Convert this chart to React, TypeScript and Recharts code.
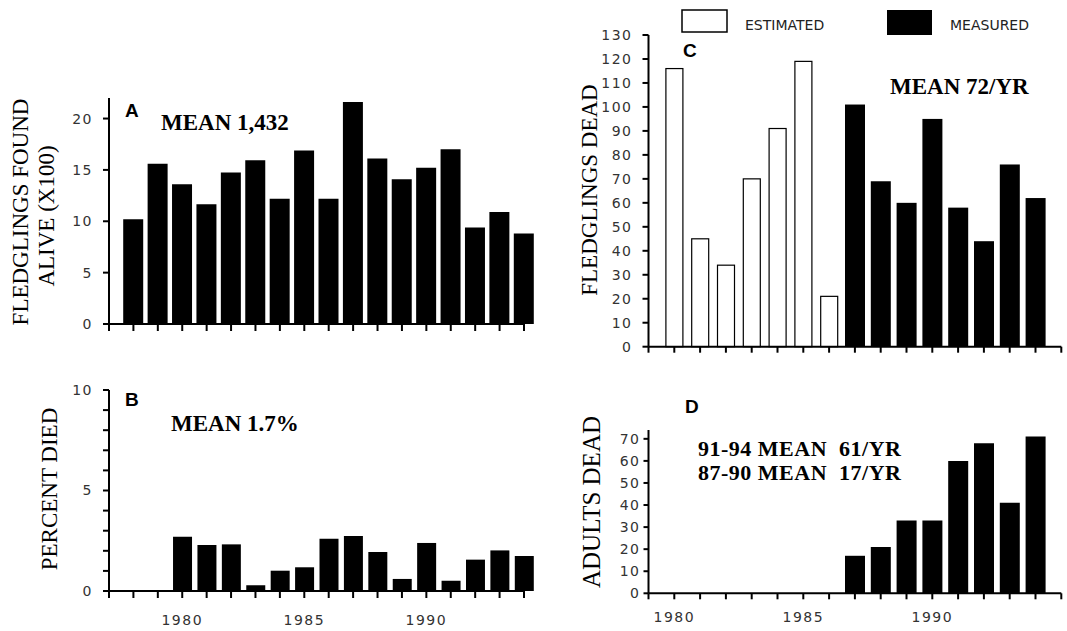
import { BarChart, Bar, XAxis, YAxis } from 'recharts'

// panel A / B years (x axis runs 1977-1994, one tick per year)
const yearsAB = [1978, 1979, 1980, 1981, 1982, 1983, 1984, 1985, 1986, 1987, 1988, 1989, 1990, 1991, 1992, 1993, 1994]
const ticksAB = [1977, 1978, 1979, 1980, 1981, 1982, 1983, 1984, 1985, 1986, 1987, 1988, 1989, 1990, 1991, 1992, 1993, 1994]

// A: fledglings found alive (x100)
const aliveHundreds = [10.2, 15.6, 13.6, 11.65, 14.75, 15.95, 12.2, 16.9, 12.2, 21.6, 16.1, 14.1, 15.2, 17.0, 9.4, 10.9, 8.8]
// B: percent died
const percentDied = [null, null, 2.7, 2.29, 2.32, 0.28, 1.01, 1.18, 2.6, 2.74, 1.94, 0.6, 2.39, 0.51, 1.56, 2.02, 1.74]

// panel C / D years (x axis runs 1979-1995)
const ticksCD = [1979, 1980, 1981, 1982, 1983, 1984, 1985, 1986, 1987, 1988, 1989, 1990, 1991, 1992, 1993, 1994, 1995]
const estimatedYears = [1980, 1981, 1982, 1983, 1984, 1985, 1986]
const estimatedDead = [116, 45, 34, 70, 91, 119, 21]
const measuredYears = [1987, 1988, 1989, 1990, 1991, 1992, 1993, 1994]
const measuredDead = [101, 69, 60, 95, 58, 44, 76, 62]
// D: adults dead
const adultsDead = [17, 21, 33, 33, 60, 68, 41, 71]

const labelYears = [1980, 1985, 1990]
const ticksA = [0, 5, 10, 15, 20]
const ticksB = [0, 1, 2, 3, 4, 5, 6, 7, 8, 9, 10]
const ticksC = [0, 10, 20, 30, 40, 50, 60, 70, 80, 90, 100, 110, 120, 130]
const ticksD = [0, 10, 20, 30, 40, 50, 60, 70]

const dataA = yearsAB.map((year, i) => ({ year, value: aliveHundreds[i] }))
const dataB = yearsAB.map((year, i) => ({ year, value: percentDied[i] }))
const dataC = [
  ...estimatedYears.map((year, i) => ({ year, value: estimatedDead[i], estimated: true })),
  ...measuredYears.map((year, i) => ({ year, value: measuredDead[i], estimated: false })),
]
const dataD = measuredYears.map((year, i) => ({ year, value: adultsDead[i] }))

const axisLine = { stroke: '#000', strokeWidth: 2 }
const tickLine = { stroke: '#000', strokeWidth: 2 }
const tickFont = { fontSize: 14, fill: '#333', fontFamily: 'DejaVu Sans, sans-serif', letterSpacing: 1.5 }
const serif = 'Liberation Serif, Times New Roman, serif'
const sans = 'Liberation Sans, Arial, sans-serif'

const noLabel = () => ''
const yearLabel = (v: number) => (labelYears.includes(v) ? String(v) : '')
const fiveLabel = (v: number) => (v % 5 === 0 ? String(v) : '')

// hollow bars for the estimated years, solid for measured
const DeadBar = (props: any) => {
  const { x, y, width, height, payload } = props
  if (!(height > 0)) return null
  if (payload && payload.estimated) {
    return <rect x={x + 1.5} y={y} width={width - 3} height={height} fill="#fff" stroke="#000" strokeWidth={1.2} />
  }
  return <rect x={x} y={y} width={width} height={height} fill="#000" />
}

export default function App() {
  return (
    <div style={{ position: 'absolute', left: 0, top: 0, width: 1067, height: 631, background: '#fff' }}>
      {/* A */}
      <div style={{ position: 'absolute', left: 0, top: 0 }}>
        <BarChart width={540} height={360} data={dataA} margin={{ top: 98, right: 16, left: 49, bottom: 6 }}>
          <XAxis type="number" dataKey="year" domain={[1977, 1994]} ticks={ticksAB} interval={0}
            tickFormatter={noLabel} axisLine={axisLine} tickLine={tickLine} tickSize={7} height={30} />
          <YAxis type="number" domain={[0, 22]} ticks={ticksA} interval={0} width={60} tick={tickFont}
            axisLine={axisLine} tickLine={tickLine} tickSize={6} tickMargin={10} />
          <Bar dataKey="value" fill="#000" barSize={20} isAnimationActive={false} />
        </BarChart>
      </div>

      {/* B */}
      <div style={{ position: 'absolute', left: 0, top: 370 }}>
        <BarChart width={540} height={261} data={dataB} margin={{ top: 20, right: 16, left: 49, bottom: 0 }}>
          <XAxis type="number" dataKey="year" domain={[1977, 1994]} ticks={ticksAB} interval={0}
            tickFormatter={yearLabel} tick={tickFont} axisLine={axisLine} tickLine={tickLine}
            tickSize={7} tickMargin={17} height={40} />
          <YAxis type="number" domain={[0, 10]} ticks={ticksB} interval={0} width={60} tick={tickFont}
            tickFormatter={fiveLabel} axisLine={axisLine} tickLine={tickLine} tickSize={6} tickMargin={10} />
          <Bar dataKey="value" fill="#000" barSize={19} isAnimationActive={false} />
        </BarChart>
      </div>

      {/* C */}
      <div style={{ position: 'absolute', left: 540, top: 0 }}>
        <BarChart width={527} height={380} data={dataC} margin={{ top: 35, right: 5.7, left: 48.5, bottom: 3.3 }}>
          <XAxis type="number" dataKey="year" domain={[1979, 1995]} ticks={ticksCD} interval={0}
            tickFormatter={noLabel} axisLine={axisLine} tickLine={tickLine} tickSize={6} height={30} />
          <YAxis type="number" domain={[0, 130]} ticks={ticksC} interval={0} width={60} tick={tickFont}
            axisLine={axisLine} tickLine={tickLine} tickSize={6} tickMargin={10} />
          <Bar dataKey="value" barSize={20} shape={DeadBar} isAnimationActive={false} />
        </BarChart>
      </div>

      {/* D */}
      <div style={{ position: 'absolute', left: 540, top: 380 }}>
        <BarChart width={527} height={251} data={dataD} margin={{ top: 50, right: 5.7, left: 48.5, bottom: 0 }}>
          <XAxis type="number" dataKey="year" domain={[1979, 1995]} ticks={ticksCD} interval={0}
            tickFormatter={yearLabel} tick={tickFont} axisLine={axisLine} tickLine={tickLine}
            tickSize={6} tickMargin={13} height={37.7} />
          <YAxis type="number" domain={[0, 74]} ticks={ticksD} interval={0} width={60} tick={tickFont}
            axisLine={axisLine} tickLine={tickLine} tickSize={5} tickMargin={3} />
          <Bar dataKey="value" fill="#000" barSize={20} isAnimationActive={false} />
        </BarChart>
      </div>

      {/* titles, panel letters, means and legend */}
      <svg width={1067} height={631} style={{ position: 'absolute', left: 0, top: 0, pointerEvents: 'none' }}>
        <g fontFamily={serif} fontSize={23} fill="#000">
          <text transform="translate(28,212) rotate(-90)" textAnchor="middle">FLEDGLINGS FOUND</text>
          <text transform="translate(54,216) rotate(-90)" textAnchor="middle">ALIVE (X100)</text>
          <text transform="translate(57,489) rotate(-90)" textAnchor="middle">PERCENT DIED</text>
          <text transform="translate(597,190) rotate(-90)" textAnchor="middle">FLEDGLINGS DEAD</text>
          <text transform="translate(600,502) rotate(-90)" textAnchor="middle" fontSize={25}>ADULTS DEAD</text>
        </g>
        <g fontFamily={sans} fontSize={19} fontWeight="bold" fill="#000">
          <text x={125} y={117}>A</text>
          <text x={125} y={406}>B</text>
          <text x={683} y={57}>C</text>
          <text x={685} y={413}>D</text>
        </g>
        <g fontFamily={serif} fontSize={23} fontWeight="bold" fill="#000">
          <text x={161} y={130}>MEAN 1,432</text>
          <text x={171} y={431}>MEAN 1.7%</text>
          <text x={890} y={94}>MEAN 72/YR</text>
        </g>
        <g fontFamily={serif} fontSize={22} fontWeight="bold" fill="#000" letterSpacing={0.5}>
          <text x={698} y={456} xmlSpace="preserve">91-94 MEAN  61/YR</text>
          <text x={698} y={480} xmlSpace="preserve">87-90 MEAN  17/YR</text>
        </g>
        <rect x={682} y={10} width={45} height={22} fill="#fff" stroke="#000" strokeWidth={1.5} />
        <rect x={887} y={10} width={45} height={25} fill="#000" />
        <g fontFamily="DejaVu Sans, sans-serif" fontSize={14} fill="#222">
          <text x={745} y={30}>ESTIMATED</text>
          <text x={950} y={30}>MEASURED</text>
        </g>
      </svg>
    </div>
  )
}
